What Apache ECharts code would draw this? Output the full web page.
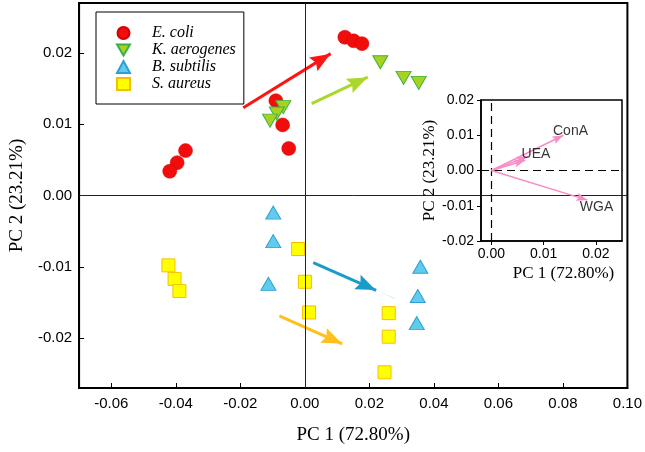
<!DOCTYPE html>
<html><head><meta charset="utf-8">
<script src="https://cdn.jsdelivr.net/npm/echarts@6/dist/echarts.min.js"></script>
<style>html,body{margin:0;padding:0;background:#fff}#c{width:645px;height:452px}</style>
</head><body><div id="c"></div>
<script>
// ---- data ----
const seriesNames = ['E. coli', 'K. aerogenes', 'B. subtilis', 'S. aureus'];
const ecoli = [[0.0124,0.0222],[0.0151,0.0217],[0.0177,0.0213],[-0.0090,0.0133],[-0.0069,0.0099],[-0.0050,0.0066],[-0.0370,0.0063],[-0.0396,0.0046],[-0.0419,0.0034]];
const kaero = [[-0.0067,0.0124],[-0.0087,0.0115],[-0.0108,0.0105],[0.0234,0.0187],[0.0306,0.0165],[0.0353,0.0158]];
const bsub  = [[-0.0098,-0.0024],[-0.0098,-0.0064],[-0.0113,-0.0124],[0.0358,-0.0100],[0.0350,-0.0141],[0.0347,-0.0179]];
const saur  = [[-0.0021,-0.0075],[0.0000,-0.0121],[0.0013,-0.0164],[0.0260,-0.0165],[0.0260,-0.0198],[0.0247,-0.0248],[-0.0423,-0.0098],[-0.0404,-0.0117],[-0.0389,-0.0134]];
// shift arrows (start, end) per species
const shiftArrows = [
  [[-0.0191,0.0123],[0.0080,0.0199]],
  [[0.0021,0.0129],[0.0195,0.0166]],
  [[0.0026,-0.0094],[0.0221,-0.0133]],
  [[-0.0079,-0.0169],[0.0116,-0.0208]]
];
const arrowColors = ['#ff1414', '#abd72c', '#1a9ccb', '#ffbf1c'];
// inset loadings
const loadingNames = ['ConA', 'UEA', '', 'WGA'];
const loadings = [[0.0138,0.0100],[0.0070,0.0040],[0.0065,0.0029],[0.0184,-0.0084]];
const mainXTicks = [-0.06,-0.04,-0.02,0.00,0.02,0.04,0.06,0.08,0.10];
const mainYTicks = [-0.02,-0.01,0.00,0.01,0.02];
const insetXTicks = [0.00,0.01,0.02];
const insetYTicks = [-0.02,-0.01,0.00,0.01,0.02];

const fmt = v => (Math.abs(v) < 1e-12 ? 0 : v).toFixed(2);
const sans = 'Liberation Sans';
const serif = 'Liberation Serif';
const downTri = 'path://M0,0L14,0L7,12Z';
// arrowhead whose tip sits at the centre of its bounding box (sliver ahead of the tip is invisible)
const arrowHead = 'path://M5.99,-19L6.01,-19L6,0Z M6,0L12,18L6,15L0,18Z';

const chart = echarts.init(document.getElementById('c'), null, {renderer: 'canvas'});
const option = {
  animation: false,
  backgroundColor: '#fff',
  grid: [
    {left: 77, top: 3, right: 16, bottom: 64, show: true, borderColor: '#000', borderWidth: 2, backgroundColor: 'transparent', z: 0},
    {left: 481, top: 100, width: 141, height: 141, show: true, borderColor: '#000', borderWidth: 1.5, backgroundColor: '#fff', z: 5}
  ],
  legend: {
    left: 96, top: 12, orient: 'vertical',
    padding: [13, 8, 12, 20],
    itemWidth: 13, itemHeight: 12, itemGap: 1,
    borderColor: '#000', borderWidth: 1,
    textStyle: {fontFamily: serif, fontStyle: 'italic', fontSize: 16, lineHeight: 13, color: '#000', padding: [0,0,0,17]},
    data: [
      {name: seriesNames[0]},
      {name: seriesNames[1], icon: downTri},
      {name: seriesNames[2]},
      {name: seriesNames[3]}
    ]
  },
  xAxis: [
    {gridIndex: 0, type: 'value', min: -0.07, max: 0.10,
     axisLine: {show: true, onZero: false, lineStyle: {color: '#000', width: 2}},
     axisTick: {show: true, inside: true, length: 5, customValues: mainXTicks, lineStyle: {color: '#000', width: 1}},
     axisLabel: {customValues: mainXTicks, formatter: fmt, fontFamily: sans, fontSize: 15, color: '#000', margin: 8},
     splitLine: {show: false},
     name: 'PC 1 (72.80%)', nameLocation: 'middle', nameGap: 38,
     nameTextStyle: {fontFamily: serif, fontSize: 19, color: '#000'}},
    {gridIndex: 1, type: 'value', min: -0.002, max: 0.025, z: 6,
     axisLine: {show: true, onZero: false, lineStyle: {color: '#000', width: 1.5}},
     axisTick: {show: true, inside: false, length: 4, customValues: insetXTicks, lineStyle: {color: '#000'}},
     axisLabel: {customValues: insetXTicks, formatter: fmt, fontFamily: sans, fontSize: 14, color: '#000', margin: 6},
     splitLine: {show: false},
     name: 'PC 1 (72.80%)', nameLocation: 'middle', nameGap: 24,
     nameTextStyle: {fontFamily: serif, fontSize: 17, color: '#000', padding: [0, 0, 0, 24]}},
  ],
  yAxis: [
    {gridIndex: 0, type: 'value', min: -0.027, max: 0.027,
     axisLine: {show: true, onZero: false, lineStyle: {color: '#000', width: 2}},
     axisTick: {show: true, inside: true, length: 5, customValues: mainYTicks, lineStyle: {color: '#000', width: 1}},
     axisLabel: {customValues: mainYTicks, formatter: fmt, fontFamily: sans, fontSize: 15, color: '#000', margin: 7},
     splitLine: {show: false},
     name: 'PC 2 (23.21%)', nameLocation: 'middle', nameGap: 50,
     nameTextStyle: {fontFamily: serif, fontSize: 19, color: '#000'}},
    {gridIndex: 1, type: 'value', min: -0.02, max: 0.02, z: 6,
     axisLine: {show: true, onZero: false, lineStyle: {color: '#000', width: 1.5}},
     axisTick: {show: true, inside: false, length: 4, customValues: insetYTicks, lineStyle: {color: '#000'}},
     axisLabel: {customValues: insetYTicks, formatter: fmt, fontFamily: sans, fontSize: 14, color: '#000', margin: 7},
     splitLine: {show: false},
     name: 'PC 2 (23.21%)', nameLocation: 'middle', nameGap: 43,
     nameTextStyle: {fontFamily: serif, fontSize: 17, color: '#000'}}
  ],
  series: [
    {type: 'scatter', name: seriesNames[0], data: ecoli, symbol: 'circle', symbolSize: 14, z: 3,
     itemStyle: {color: '#f20d0d', borderColor: '#d40000', borderWidth: 0.5, opacity: 1},
     markLine: {silent: true, symbol: 'none', label: {show: false}, animation: false,
       lineStyle: {color: '#222', width: 1, type: 'solid'},
       data: [{xAxis: 0}, {yAxis: 0}]}},
    {type: 'scatter', name: seriesNames[1], data: kaero, symbol: 'triangle', symbolRotate: 180, symbolSize: [15, 13], z: 3,
     itemStyle: {color: '#a6d41e', borderColor: '#3fae46', borderWidth: 1, opacity: 1}},
    {type: 'scatter', name: seriesNames[2], data: bsub, symbol: 'triangle', symbolSize: [15, 13], z: 3,
     itemStyle: {color: '#5fcbef', borderColor: '#2f9fd3', borderWidth: 1, opacity: 1}},
    {type: 'scatter', name: seriesNames[3], data: saur, symbol: 'rect', symbolSize: 13, z: 3,
     itemStyle: {color: '#ffff00', borderColor: '#f3c000', borderWidth: 1, opacity: 1}},
    {type: 'lines', coordinateSystem: 'cartesian2d', xAxisIndex: 0, yAxisIndex: 0, z: 3,
     symbol: ['none', arrowHead], symbolSize: [0, [16, 41]],
     data: shiftArrows.map((c, i) => ({coords: c, lineStyle: {color: arrowColors[i], width: 3, opacity: 1}}))},
    // inset
    {type: 'lines', coordinateSystem: 'cartesian2d', xAxisIndex: 1, yAxisIndex: 1, z: 8,
     symbol: ['none', arrowHead], symbolSize: [0, [8, 22]],
     lineStyle: {color: '#f78cc6', width: 1.5, opacity: 1},
     data: loadings.map(p => ({coords: [[0, 0], p]})),
     markLine: {silent: true, symbol: 'none', label: {show: false}, animation: false,
       lineStyle: {color: '#000', width: 1.2, type: [8, 5]},
       data: [{xAxis: 0}, {yAxis: 0}]}},
    {type: 'scatter', xAxisIndex: 1, yAxisIndex: 1, z: 9, symbolSize: 0, silent: true,
     data: [],
     label: {show: true, position: 'inside', fontFamily: sans, fontSize: 14, color: '#000',
       formatter: p => p.name}}
  ]
};
// label offsets for inset text
const labelOffsets = [[7, -4], [8, -2], [0, 0], [9, 7]];
option.series[6].data = loadings.map((p, i) => ({value: p, name: loadingNames[i], label: {offset: labelOffsets[i]}}));
chart.setOption(option);
</script>
</body></html>
